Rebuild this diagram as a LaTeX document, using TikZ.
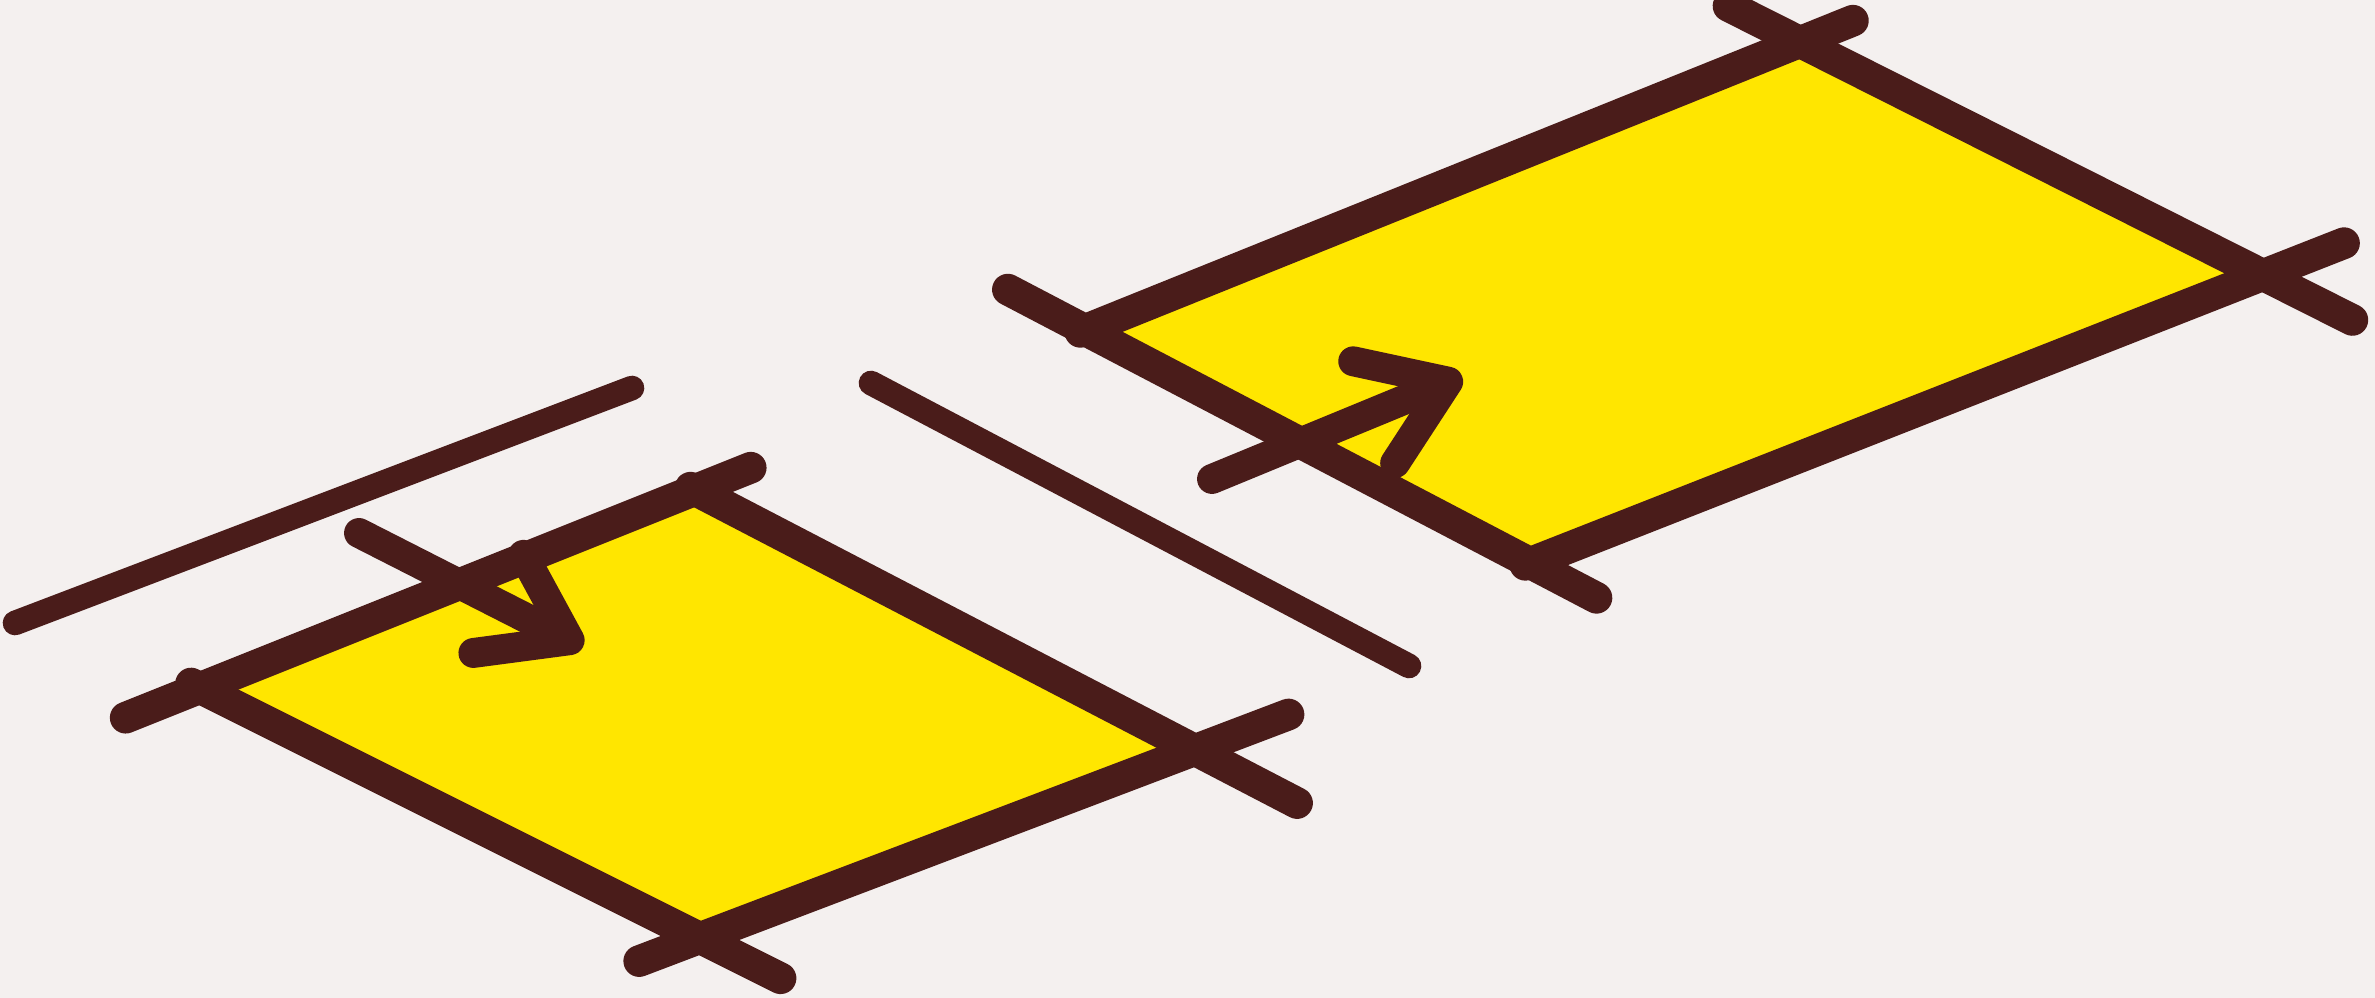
\documentclass[tikz,border=0pt]{standalone}
\usepackage{tikz}
\usetikzlibrary{arrows.meta,calc}
\definecolor{paper}{HTML}{F4F0EF}
\definecolor{sheet}{HTML}{FFE600}
\definecolor{ink}{HTML}{4A1C1A}

\begin{document}
\begin{tikzpicture}[
  x=0.01cm, y=-0.01cm,
  edge/.style={draw=ink, line width=9pt, line cap=round},
  plate/.style={fill=sheet, draw=none},
  arrow/.style={edge, line width=8.5pt, -{Straight Barb[length=8mm, width=11mm, line cap=round, line join=round]}},
]
  \useasboundingbox (0,0) rectangle (2375,998);
  \fill[paper] (0,0) rectangle (2375,998);

  % lower plate
  \coordinate (a1) at (200,688);
  \coordinate (a2) at (695,490);
  \coordinate (a3) at (1195,750);
  \coordinate (a4) at (700,938);
  \fill[plate] (a1) -- (a2) -- (a3) -- (a4) -- cycle;
  \draw[edge] ($(a1)!-0.8cm!(a2)$) -- ($(a2)!-0.6cm!(a1)$);
  \draw[edge] ($(a2)!-0.05cm!(a3)$) -- ($(a3)!-1.15cm!(a2)$);
  \draw[edge] ($(a3)!-1cm!(a4)$) -- ($(a4)!-0.65cm!(a3)$);
  \draw[edge] ($(a4)!-0.9cm!(a1)$) -- ($(a1)!-0.1cm!(a4)$);

  % upper plate
  \coordinate (b1) at (1085,330);
  \coordinate (b2) at (1800,42);
  \coordinate (b3) at (2263,275);
  \coordinate (b4) at (1530,563);
  \fill[plate] (b1) -- (b2) -- (b3) -- (b4) -- cycle;
  \draw[edge] ($(b1)!-0.05cm!(b2)$) -- ($(b2)!-0.57cm!(b1)$);
  \draw[edge] ($(b2)!-0.8cm!(b3)$) -- ($(b3)!-1cm!(b2)$);
  \draw[edge] ($(b3)!-0.87cm!(b4)$) -- ($(b4)!-0.05cm!(b3)$);
  \draw[edge] ($(b4)!-0.75cm!(b1)$) -- ($(b1)!-0.87cm!(b4)$);

  % loose lines
  \coordinate (l1) at (15,623);
  \coordinate (l2) at (632,388);
  \coordinate (m1) at (871,383);
  \coordinate (m2) at (1409,666);
  \draw[edge, line width=7pt] (l1) -- (l2);
  \draw[edge, line width=7pt] (m1) -- (m2);

  % arrows
  \coordinate (p1) at (359,533);
  \coordinate (p2) at (583,647);
  \coordinate (q1) at (1212,479);
  \coordinate (q2) at (1462,376);
  \draw[arrow] (p1) -- (p2);
  \draw[arrow] (q1) -- (q2);
\end{tikzpicture}
\end{document}
